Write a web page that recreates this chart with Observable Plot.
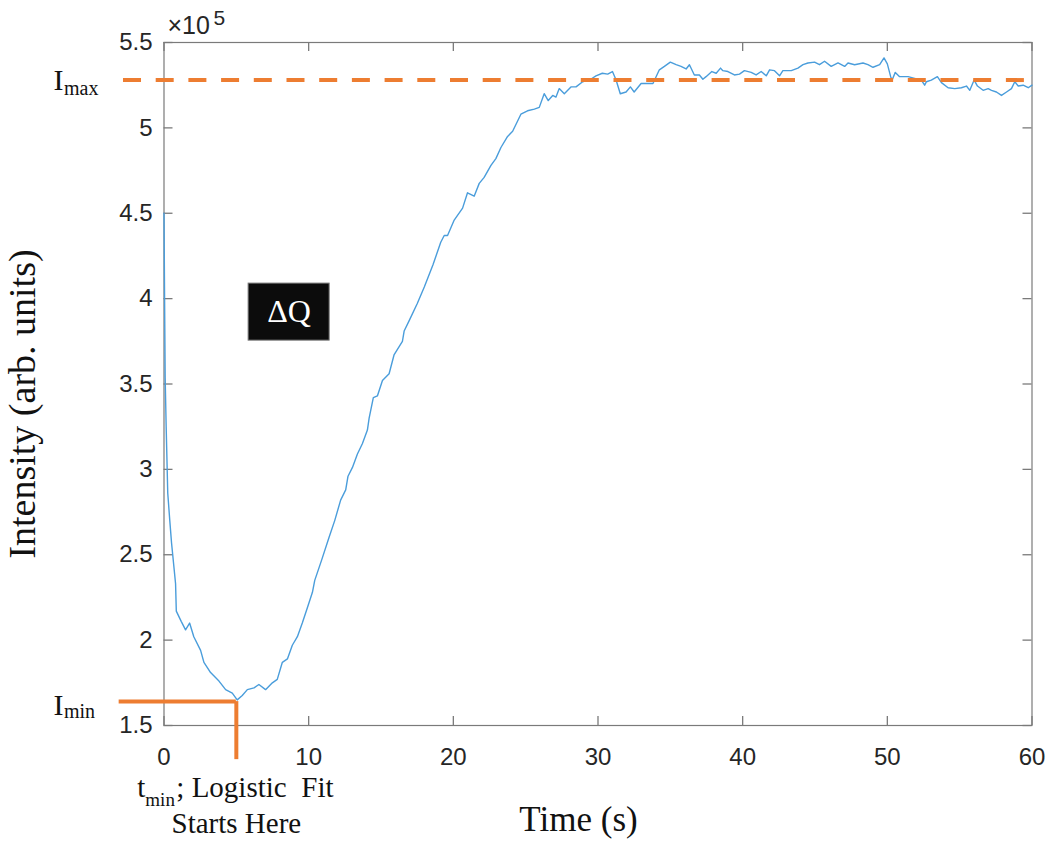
<!DOCTYPE html>
<html>
<head>
<meta charset="utf-8">
<script src="https://cdn.jsdelivr.net/npm/d3@7"></script>
<script src="https://cdn.jsdelivr.net/npm/@observablehq/plot@0.6"></script>
<style>
  html, body { margin: 0; padding: 0; background: #fff; }
  #chart svg { display: block; }
</style>
</head>
<body>
<div id="chart"></div>
<script>
// ---- Data (intensity in units of 10^5, arb. units) ----
const time = [0, 0.04, 0.08, 0.15, 0.26, 0.4, 0.52, 0.8, 0.85, 1.19, 1.49, 1.77, 2.06, 2.53, 2.76, 3.22, 3.8, 4.26, 4.72, 5.06,
  5.41, 5.76, 6.22, 6.56, 7.02, 7.49, 7.83, 8.18, 8.53, 8.87, 9.22, 9.56, 9.91, 10.26, 10.42, 10.9, 11.4, 11.8, 12.21, 12.56,
  12.72, 13.02, 13.37, 13.71, 14.06, 14.18, 14.47, 14.75, 15.1, 15.56, 15.9, 16.48, 16.6, 16.94, 17.5, 18.0, 18.6, 19.13, 19.37, 19.6,
  20.06, 20.64, 20.98, 21.44, 21.79, 22.13, 22.6, 22.94, 23.29, 23.75, 24.1, 24.67, 25.13, 25.6, 25.94, 26.28, 26.56, 26.87, 27.09, 27.32,
  27.67, 28.13, 28.48, 28.94, 29.5, 29.86, 30.3, 30.67, 31.0, 31.25, 31.54, 31.94, 32.24, 32.5, 32.98, 33.44, 33.8, 34.24, 34.59, 35.0,
  35.4, 35.74, 36.09, 36.32, 36.66, 37.01, 37.25, 37.47, 37.87, 38.17, 38.47, 38.63, 38.98, 39.43, 39.78, 40.12, 40.59, 40.93, 41.28, 41.63,
  41.86, 42.2, 42.55, 42.78, 43.36, 43.82, 44.17, 44.51, 44.97, 45.31, 45.66, 46.12, 46.59, 47.05, 47.28, 47.74, 48.32, 48.66, 49.01, 49.47,
  49.77, 50.0, 50.23, 50.33, 50.55, 50.85, 51.43, 51.89, 52.35, 52.58, 52.7, 53.04, 53.46, 53.74, 54.2, 54.66, 55.12, 55.47, 55.7, 56.0,
  56.23, 56.62, 56.97, 57.2, 57.54, 57.89, 58.24, 58.58, 58.81, 59.05, 59.39, 59.74, 60];
const intensity = [4.50, 4.00, 3.54, 3.25, 2.86, 2.70, 2.57, 2.33, 2.17, 2.11, 2.06, 2.10, 2.02, 1.94, 1.87, 1.81, 1.76, 1.71, 1.69, 1.65,
  1.676, 1.71, 1.72, 1.74, 1.71, 1.75, 1.77, 1.87, 1.89, 1.97, 2.02, 2.10, 2.19, 2.28, 2.35, 2.47, 2.60, 2.70, 2.82, 2.88,
  2.96, 3.01, 3.09, 3.15, 3.23, 3.30, 3.42, 3.43, 3.52, 3.56, 3.67, 3.75, 3.81, 3.87, 3.97, 4.07, 4.20, 4.33, 4.37, 4.37,
  4.46, 4.53, 4.62, 4.60, 4.675, 4.71, 4.78, 4.82, 4.885, 4.95, 4.98, 5.08, 5.10, 5.11, 5.12, 5.20, 5.16, 5.19, 5.18, 5.23,
  5.20, 5.24, 5.24, 5.27, 5.285, 5.305, 5.32, 5.315, 5.33, 5.28, 5.20, 5.21, 5.24, 5.21, 5.26, 5.26, 5.26, 5.34, 5.36, 5.385,
  5.37, 5.36, 5.345, 5.37, 5.31, 5.31, 5.285, 5.30, 5.33, 5.32, 5.35, 5.335, 5.33, 5.31, 5.315, 5.335, 5.325, 5.31, 5.33, 5.305,
  5.34, 5.335, 5.305, 5.335, 5.335, 5.35, 5.37, 5.38, 5.385, 5.37, 5.39, 5.36, 5.38, 5.36, 5.38, 5.37, 5.38, 5.37, 5.355, 5.37,
  5.41, 5.375, 5.30, 5.28, 5.325, 5.30, 5.30, 5.29, 5.28, 5.25, 5.27, 5.28, 5.30, 5.265, 5.235, 5.23, 5.235, 5.245, 5.22, 5.28,
  5.245, 5.22, 5.23, 5.22, 5.21, 5.19, 5.21, 5.23, 5.27, 5.245, 5.25, 5.235, 5.25];

const xTicks = [0, 10, 20, 30, 40, 50, 60];
const yTicks = [1.5, 2, 2.5, 3, 3.5, 4, 4.5, 5, 5.5];
const yTickLabels = ["1.5", "2", "2.5", "3", "3.5", "4", "4.5", "5", "5.5"];

// annotation values (data units)
const Imax = 5.28;
const Imin = 1.64;
const tmin = 5.0;
const imaxLine = [{x1: -2.8, x2: 60, y: Imax}];
const iminLine = [{x1: -3.1, x2: tmin, y: Imin}];
const tminLine = [{x: tmin, y1: Imin, y2: 1.30}];
const dqBox = [{x1: 5.85, x2: 11.45, y1: 3.754, y2: 4.088, label: "ΔQ"}];

const series = time.map((t, i) => ({t, v: intensity[i]}));

// layout
const W = 1050, H = 843;
const mL = 163.5, mR = 18.5, mT = 42, mB = 118;
const frameW = W - mL - mR, frameH = H - mT - mB;
const xDomain = [0, 60], yDomain = [1.5, 5.5];
const tickLen = 9; // px, drawn inward
const tx = tickLen * (xDomain[1] - xDomain[0]) / frameW;  // tick length in x units
const ty = tickLen * (yDomain[1] - yDomain[0]) / frameH;  // tick length in y units

const serif = "'Liberation Serif', 'Times New Roman', serif";
const sans = "'Liberation Sans', Arial, sans-serif";
const orange = "#ED7D31";
const axisGrey = "#7a7a7a";
const textDark = "#262626";
const ink = "#111";
const T = (opts) => ({lineAnchor: "middle", fontFamily: serif, fill: ink, ...opts});
const tickStyle = {stroke: axisGrey, strokeWidth: 1.3};

const chart = Plot.plot({
  width: W,
  height: H,
  marginLeft: mL,
  marginRight: mR,
  marginTop: mT,
  marginBottom: mB,
  style: {background: "#fff", fontFamily: sans, fontSize: "24px", color: textDark, overflow: "visible"},
  x: {domain: xDomain},
  y: {domain: yDomain},
  marks: [
    Plot.frame({stroke: axisGrey, strokeWidth: 1.2}),
    // inward tick marks on all four sides
    Plot.ruleX(xTicks, {x: d => d, y1: yDomain[0], y2: yDomain[0] + ty, ...tickStyle}),
    Plot.ruleX(xTicks, {x: d => d, y1: yDomain[1], y2: yDomain[1] - ty, ...tickStyle}),
    Plot.ruleY(yTicks, {y: d => d, x1: xDomain[0], x2: xDomain[0] + tx, ...tickStyle}),
    Plot.ruleY(yTicks, {y: d => d, x1: xDomain[1], x2: xDomain[1] - tx, ...tickStyle}),
    // tick labels
    Plot.axisX({ticks: xTicks, tickSize: 0, tickPadding: 22, label: null, fill: textDark, fontSize: 24}),
    Plot.axisY({ticks: yTicks, tickSize: 0, tickPadding: 11.5, tickFormat: (d) => yTickLabels[yTicks.indexOf(d)], label: null, fill: textDark, fontSize: 24}),
    // ×10^5 exponent
    Plot.text(["×10"], {frameAnchor: "top-left", text: d => d, textAnchor: "start", lineAnchor: "middle", dx: 3.5, dy: -17, fontSize: 25, fill: textDark}),
    Plot.text(["5"], {frameAnchor: "top-left", text: d => d, textAnchor: "start", lineAnchor: "middle", dx: 49.5, dy: -24, fontSize: 21, fill: textDark}),
    // data line
    Plot.line(series, {x: "t", y: "v", stroke: "#4a9ddb", strokeWidth: 1.4}),
    // annotation lines
    Plot.ruleY(imaxLine, {x1: "x1", x2: "x2", y: "y", stroke: orange, strokeWidth: 4, strokeDasharray: "18,14.7"}),
    Plot.ruleY(iminLine, {x1: "x1", x2: "x2", y: "y", stroke: orange, strokeWidth: 4}),
    Plot.ruleX(tminLine, {x: "x", y1: "y1", y2: "y2", stroke: orange, strokeWidth: 4}),
    // ΔQ box
    Plot.rect(dqBox, {x1: "x1", x2: "x2", y1: "y1", y2: "y2", fill: "#0c0c0c", stroke: "#777", strokeWidth: 1}),
    Plot.text(dqBox, T({x: d => (d.x1 + d.x2) / 2, y: d => (d.y1 + d.y2) / 2, text: "label", fill: "#fff", fontSize: 32})),
    // I_max / I_min labels
    Plot.text([Imax], T({y: d => d, frameAnchor: "left", text: () => "I", textAnchor: "start", dx: -110.5, dy: 0.5, fontSize: 30})),
    Plot.text([Imax], T({y: d => d, frameAnchor: "left", text: () => "max", textAnchor: "start", dx: -100, dy: 8.5, fontSize: 20})),
    Plot.text([Imin], T({y: d => d, frameAnchor: "left", text: () => "I", textAnchor: "start", dx: -110.5, dy: 3.5, fontSize: 30})),
    Plot.text([Imin], T({y: d => d, frameAnchor: "left", text: () => "min", textAnchor: "start", dx: -100, dy: 10, fontSize: 20})),
    // t_min; Logistic Fit Starts Here
    Plot.text([tmin], T({x: d => d, frameAnchor: "bottom", text: () => "t", textAnchor: "start", dx: -99, dy: 62, fontSize: 29})),
    Plot.text([tmin], T({x: d => d, frameAnchor: "bottom", text: () => "min", textAnchor: "start", dx: -91, dy: 74, fontSize: 19})),
    Plot.text([tmin], T({x: d => d, frameAnchor: "bottom", text: () => "; Logistic", textAnchor: "start", dx: -60, dy: 62, fontSize: 29})),
    Plot.text([tmin], T({x: d => d, frameAnchor: "bottom", text: () => "Fit", textAnchor: "start", dx: 65, dy: 62, fontSize: 29})),
    Plot.text([tmin], T({x: d => d, frameAnchor: "bottom", text: () => "Starts Here", textAnchor: "middle", dy: 98.5, fontSize: 29})),
    // axis titles
    Plot.text(["Time (s)"], T({frameAnchor: "bottom", text: d => d, textAnchor: "middle", dx: -19.5, dy: 94, fontSize: 35})),
    Plot.text(["Intensity (arb. units)"], T({frameAnchor: "left", text: d => d, textAnchor: "middle", rotate: -90, dx: -141, dy: 20, fontSize: 38}))
  ]
});
document.getElementById("chart").appendChild(chart);
</script>
</body>
</html>
